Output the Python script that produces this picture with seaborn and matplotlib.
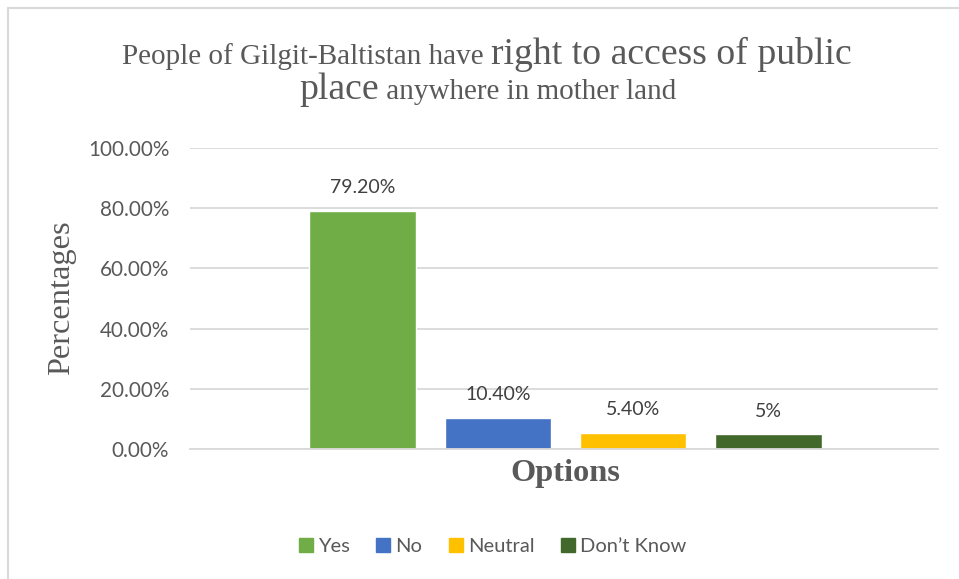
import matplotlib
matplotlib.use("Agg")
import matplotlib.pyplot as plt
import seaborn as sns
import pandas as pd
from matplotlib.lines import Line2D
from matplotlib.ticker import FuncFormatter, FixedLocator

options = ["Yes", "No", "Neutral", "Don\u2019t Know"]
values = [0.792, 0.104, 0.054, 0.05]
value_labels = ["79.20%", "10.40%", "5.40%", "5%"]
colors = ["#70AD47", "#4472C4", "#FFC000", "#43682B"]
yticks = [0.0, 0.2, 0.4, 0.6, 0.8, 1.0]
title_line1 = [("People of Gilgit-Baltistan have ", "small"), ("right to access of public", "big")]
title_line2 = [("place", "big"), (" anywhere in mother land", "small")]
ylabel = "Percentages"
xlabel = "Options"

sns.set_theme(style="white")
plt.rcParams['font.family'] = ['Lato', 'DejaVu Sans']
TXT = "#595959"
GRID = "#D9D9D9"
SERIF = "Liberation Serif"

W, H = 959, 579
fig = plt.figure(figsize=(W / 100, H / 100), dpi=100)
fig.patch.set_facecolor("white")

ax = fig.add_axes([190 / W, 1 - 449 / H, (938 - 190) / W, (449 - 148) / H])
df = pd.DataFrame({"Option": options, "Value": values})
sns.barplot(data=df, x="Option", y="Value", hue="Option", order=options,
            hue_order=options, palette=colors, width=0.79, saturation=1,
            legend=False, ax=ax, zorder=3)

ax.set_xlim(-1.278, 4.256)
ax.set_ylim(0, 1.0)
ax.yaxis.set_major_locator(FixedLocator(yticks))
ax.yaxis.set_major_formatter(FuncFormatter(lambda v, p: f"{v * 100:.2f}%"))
ax.grid(axis="y", color=GRID, linewidth=1.3, zorder=0)
ax.set_axisbelow(True)
for s in ["top", "right", "left"]:
    ax.spines[s].set_visible(False)
ax.spines["bottom"].set_color(GRID)
ax.spines["bottom"].set_linewidth(1.3)
ax.spines["bottom"].set_zorder(4)
ax.tick_params(axis="y", length=0, pad=15, labelsize=14.9, labelcolor=TXT)
ax.tick_params(axis="x", length=0, labelbottom=False)
ax.set_xlabel("")
ax.set_ylabel("")

for i, (v, lab) in enumerate(zip(values, value_labels)):
    ax.annotate(lab, (i, v), xytext=(0, 12.5), textcoords="offset points",
                ha="center", va="baseline", fontsize=14, color="#404040")

# axis titles
fig.text(62 / W, 1 - 298 / H, ylabel, rotation=90, ha="center", va="center",
         family=SERIF, fontsize=23.3, color=TXT)
fig.text(565 / W, 1 - 473 / H, xlabel, ha="center", va="center",
         family=SERIF, fontsize=23.3, fontweight="bold", color=TXT)

# rich title
sizes = {"small": 21.0, "big": 27.2}
renderer = fig.canvas.get_renderer()

def rich_line(pieces, baseline_px, cx_px):
    texts = []
    for s, kind in pieces:
        t = fig.text(0, 0, s, fontsize=sizes[kind], family=SERIF, color=TXT,
                     ha="left", va="baseline")
        texts.append(t)
    widths = [t.get_window_extent(renderer).width for t in texts]
    x = cx_px - sum(widths) / 2
    for t, w in zip(texts, widths):
        t.set_position((x / W, 1 - baseline_px / H))
        x += w

rich_line(title_line1, 64, 487)
rich_line(title_line2, 99, 488)

# legend
handles = [Line2D([], [], marker="s", linestyle="none", markersize=10,
                  markerfacecolor=c, markeredgecolor=c) for c in colors]
fig.legend(handles, options, loc="center", bbox_to_anchor=(491 / W, 1 - 546 / H),
           ncol=4, frameon=False, fontsize=14.5, labelcolor=TXT,
           handletextpad=0.1, columnspacing=1.15, handlelength=1.0)

# chart border
fig.add_artist(Line2D([7.5 / W, 7.5 / W], [0, 1 - 8 / H], transform=fig.transFigure,
                      color=GRID, linewidth=1.5))
fig.add_artist(Line2D([7.5 / W, 1], [1 - 8 / H, 1 - 8 / H], transform=fig.transFigure,
                      color=GRID, linewidth=1.5))

fig.savefig("out.png", dpi=100, facecolor="white")
